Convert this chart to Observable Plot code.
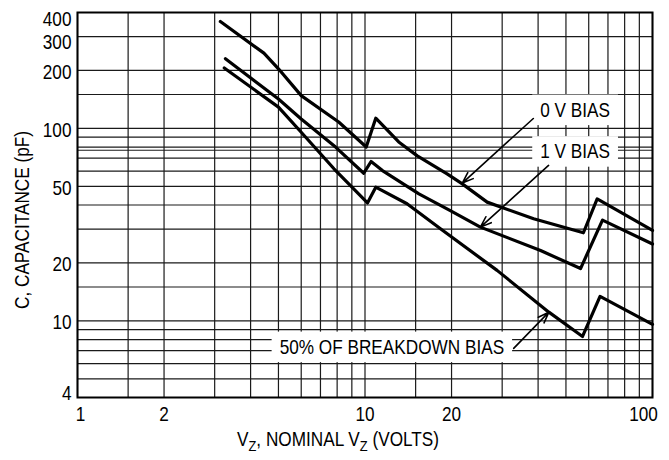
<!DOCTYPE html>
<html>
<head>
<meta charset="utf-8">
<script src="https://cdn.jsdelivr.net/npm/d3@7"></script>
<script src="https://cdn.jsdelivr.net/npm/@observablehq/plot@0.6"></script>
<style>
  html, body { margin: 0; padding: 0; background: #fff; }
  #chart { width: 669px; height: 460px; }
</style>
</head>
<body>
<div id="chart"></div>
<script>
// Grid and tick values
const xGrid = [1, 1.5, 2, 3, 4, 5, 6, 7, 8, 9, 10, 15, 20, 30, 40, 50, 60, 70, 80, 90, 100];
const yGrid = [4, 5, 6, 7, 8, 9, 10, 15, 20, 30, 40, 50, 60, 70, 77, 80, 90, 100, 150, 200, 300, 400];
const xTicks = [1, 2, 5, 10, 20, 50, 100];
const yTicks = [4, 8, 10, 20, 50, 100, 200, 300, 400];

// Series: 0 V bias
const vz0V = [3.14, 4.45, 5.0, 6.0, 8.1, 10.1, 10.9, 13.1, 15.2, 19.3, 21.8, 26.6, 38.6, 57.5, 64.2, 100];
const cap0V = [359, 246, 204, 148, 108, 80, 113, 85, 72, 58, 51.5, 41.4, 33.9, 28.7, 43, 29.5];
// Series: 1 V bias
const vz1V = [3.27, 5.0, 6.0, 7.9, 9.9, 10.5, 11.5, 15.4, 19.8, 25.2, 40.8, 56.2, 67, 100];
const cap1V = [230, 142, 112, 80, 58.5, 67.3, 60.4, 45.7, 37.4, 30.7, 23.2, 18.7, 33.4, 25.1];
// Series: 50% of breakdown bias
const vz50 = [3.24, 5.0, 6.0, 7.8, 10.2, 10.9, 14.0, 18.3, 28.8, 43.6, 57.1, 65.7, 100];
const cap50 = [206, 129, 95.5, 61.7, 41, 49.5, 40.6, 30.1, 18.3, 11.1, 8.3, 13.4, 9.6];

// Annotation labels (data coordinates) and arrows
const labelText = ["0 V BIAS", "1 V BIAS", "50% OF BREAKDOWN BIAS"];
const labelX = [53.8, 53.8, 12.4];
const labelY = [124, 75.4, 7.28];
const arrowFromX = [38.5, 43.5, 32.9];
const arrowFromY = [112.6, 64.2, 7.2];
const arrowToX = [21.8, 25.2, 43.6];
const arrowToY = [52, 30.7, 11.1];

const yTitle = "C, CAPACITANCE (pF)";

const toRows = (xs, ys) => xs.map((x, i) => ({x, y: ys[i]}));
const labels = labelText.map((t, i) => ({t, x: labelX[i], y: labelY[i]}));
const arrows = arrowFromX.map((x, i) => ({x1: x, y1: arrowFromY[i], x2: arrowToX[i], y2: arrowToY[i]}));

const FONT = '"Liberation Sans", Arial, Helvetica, sans-serif';
const FS = 20;
const SX = 0.86; // horizontal condensing, Arial Narrow look
const fmt = d => String(d);
const yAxisOpts = {tickSize: 0, tickPadding: 6, tickFormat: fmt, fontSize: FS, label: null};
const xAxisOpts = {tickSize: 0, tickPadding: 9, tickFormat: fmt, fontSize: FS, label: null};

const chart = Plot.plot({
  width: 669,
  height: 460,
  marginLeft: 77,
  marginRight: 17,
  marginTop: 12,
  marginBottom: 63,
  x: {type: "log", domain: [1, 100]},
  y: {type: "log", domain: [4, 400]},
  style: {fontFamily: FONT, fontSize: FS + "px", background: "white", color: "black"},
  marks: [
    Plot.ruleX(xGrid, {stroke: "#1a1a1a", strokeWidth: 1.2}),
    Plot.ruleY(yGrid, {stroke: "#1a1a1a", strokeWidth: 1.2}),
    Plot.line(toRows(vz0V, cap0V), {x: "x", y: "y", stroke: "black", strokeWidth: 3.2}),
    Plot.line(toRows(vz1V, cap1V), {x: "x", y: "y", stroke: "black", strokeWidth: 3.2}),
    Plot.line(toRows(vz50, cap50), {x: "x", y: "y", stroke: "black", strokeWidth: 3.2}),
    Plot.arrow(arrows, {x1: "x1", y1: "y1", x2: "x2", y2: "y2", stroke: "black", strokeWidth: 1.6, headLength: 11, headAngle: 40}),
    Plot.text(labels, {x: "x", y: "y", text: "t", fontSize: FS, fill: "black"}),
    Plot.frame({stroke: "black", strokeWidth: 2}),
    Plot.axisX(xTicks.filter(d => d > 1 && d < 100), xAxisOpts),
    Plot.axisX([xTicks[0]], {...xAxisOpts, dx: 3}),
    Plot.axisX([xTicks[xTicks.length - 1]], {...xAxisOpts, dx: -9}),
    Plot.axisY(yTicks.filter(d => d > 4 && d < 300), {...yAxisOpts, dy: 2}),
    Plot.axisY([yTicks[0]], {...yAxisOpts, dy: -4}),
    Plot.axisY([yTicks[yTicks.length - 2]], {...yAxisOpts, dy: 6}),
    Plot.axisY([yTicks[yTicks.length - 1]], {...yAxisOpts, dy: 7})
  ]
});

document.getElementById("chart").appendChild(chart);

// Condense every Plot text horizontally around its anchor
chart.querySelectorAll("text").forEach(el => {
  const anchor = getComputedStyle(el).textAnchor;
  const origin = anchor === "end" ? "right" : anchor === "start" ? "left" : "center";
  const g = document.createElementNS("http://www.w3.org/2000/svg", "g");
  el.parentNode.insertBefore(g, el);
  g.appendChild(el);
  g.style.transformBox = "fill-box";
  g.style.transformOrigin = origin + " center";
  g.style.transform = `scaleX(${SX})`;
});

const svg = d3.select(chart);

// White label boxes behind the annotation texts (sized from the rendered text)
const svgRect = chart.getBoundingClientRect();
const rules = chart.querySelectorAll('g[aria-label="rule"]');
const lastRule = rules[rules.length - 1];
const boxG = document.createElementNS("http://www.w3.org/2000/svg", "g");
lastRule.parentNode.insertBefore(boxG, lastRule.nextSibling);
chart.querySelectorAll("text").forEach(el => {
  if (!labelText.includes(el.textContent)) return;
  const r = el.getBoundingClientRect();
  d3.select(boxG).append("rect")
    .attr("x", r.left - svgRect.left - 8)
    .attr("y", r.top - svgRect.top - 4)
    .attr("width", r.width + 16)
    .attr("height", r.height + 8)
    .attr("fill", "white");
});

// Y axis title
svg.append("text")
  .attr("transform", `translate(22,220) rotate(-90) scale(${SX},1)`)
  .attr("text-anchor", "middle")
  .attr("dy", "0.35em")
  .attr("font-family", FONT)
  .attr("font-size", FS)
  .attr("fill", "black")
  .text(yTitle);

// X axis title with subscripts
const t = svg.append("text")
  .attr("transform", `translate(338,446) scale(${SX},1)`)
  .attr("text-anchor", "middle")
  .attr("font-family", FONT)
  .attr("font-size", FS)
  .attr("fill", "black");
t.append("tspan").text("V");
t.append("tspan").attr("font-size", 15).attr("dy", 5).text("Z");
t.append("tspan").attr("dy", -5).text(", NOMINAL V");
t.append("tspan").attr("font-size", 15).attr("dy", 5).text("Z");
t.append("tspan").attr("dy", -5).text(" (VOLTS)");
</script>
</body>
</html>
